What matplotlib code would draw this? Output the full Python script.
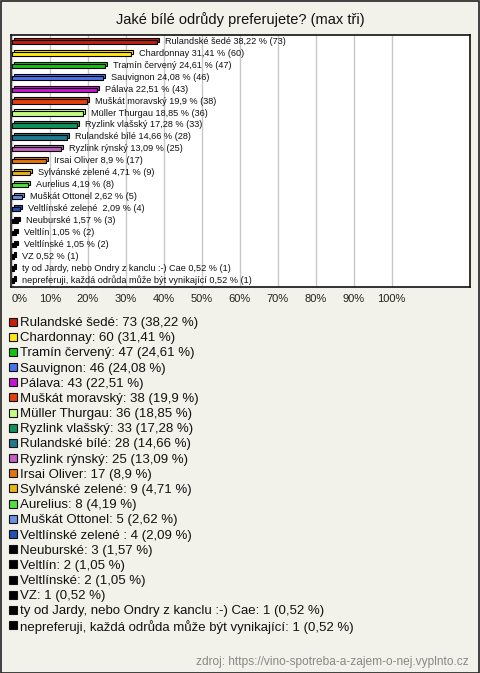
import matplotlib
matplotlib.use("Agg")
import matplotlib.pyplot as plt
import matplotlib.transforms as mtransforms
from matplotlib.patches import Rectangle

plt.rcParams['font.family'] = ['Liberation Sans', 'DejaVu Sans']

title = "Jaké bílé odrůdy preferujete? (max tři)"
categories = [
    "Rulandské šedé", "Chardonnay", "Tramín červený", "Sauvignon", "Pálava",
    "Muškát moravský", "Müller Thurgau", "Ryzlink vlašský", "Rulandské bílé",
    "Ryzlink rýnský", "Irsai Oliver", "Sylvánské zelené", "Aurelius",
    "Muškát Ottonel", "Veltlínské zelené ", "Neuburské", "Veltlín", "Veltlínské",
    "VZ", "ty od Jardy, nebo Ondry z kanclu :-) Cae",
    "nepreferuji, každá odrůda může být vynikající",
]
counts = [73, 60, 47, 46, 43, 38, 36, 33, 28, 25, 17, 9, 8, 5, 4, 3, 2, 2, 1, 1, 1]
percents = [38.22, 31.41, 24.61, 24.08, 22.51, 19.9, 18.85, 17.28, 14.66, 13.09,
            8.9, 4.71, 4.19, 2.62, 2.09, 1.57, 1.05, 1.05, 0.52, 0.52, 0.52]
colors = ["#c41e0c", "#ffe812", "#14c214", "#4a72ee", "#c814d2", "#e2400e",
          "#c6fc82", "#12905c", "#1e7a8e", "#c260c0", "#e27412", "#e8b414",
          "#52e03e", "#6a92e0", "#2450b4", "#000000", "#000000", "#000000",
          "#000000", "#000000", "#000000"]
xticks = [0, 10, 20, 30, 40, 50, 60, 70, 80, 90, 100]
source = "zdroj: https://vino-spotreba-a-zajem-o-nej.vyplnto.cz"

def fmt(v):
    return f"{v:g}".replace('.', ',')

W, H = 480, 673
fig = plt.figure(figsize=(W / 100, H / 100), dpi=100)
fig.patch.set_facecolor("#f3f2ea")
fig.patches.append(Rectangle((0.5 / W, 0.5 / H), 1 - 1.5 / W, 1 - 1.5 / H,
                             transform=fig.transFigure, fill=False,
                             edgecolor="#222222", linewidth=1.2))

fig.text(240 / W, 1 - 20 / H, title, ha='center', va='center', fontsize=10.5,
         color="#111111")

left, right, top, bottom = 11, 470, 35, 287
ax = fig.add_axes([left / W, 1 - bottom / H, (right - left) / W, (bottom - top) / H])
ax.set_facecolor("white")
n = len(categories)
ax.set_ylim(n - 1 + 0.55, -0.59)
ax.set_xlim(-0.2, 120.6)
ax.set_xticks(xticks)
ax.set_xticklabels([f"{t}%" for t in xticks], fontsize=8, color="#222222")
ax.get_xticklabels()[0].set_horizontalalignment('left')
ax.tick_params(axis='x', length=0, pad=5)
ax.set_yticks([])
ax.grid(axis='x', color="#c8c8c8", linewidth=1)
ax.set_axisbelow(True)
for s in ax.spines.values():
    s.set_color("#111111")
    s.set_linewidth(1.2)

ypos = list(range(n))
shadow = mtransforms.offset_copy(ax.transData, fig=fig, x=2, y=2, units='dots')
ax.barh(ypos, percents, height=0.36, color=colors, edgecolor="black",
        linewidth=0.8, transform=shadow, zorder=2)
ax.barh(ypos, percents, height=0.36, color=colors, edgecolor="black",
        linewidth=0.8, zorder=3)

for i, (c, p, k) in enumerate(zip(categories, percents, counts)):
    ax.annotate(f"{c} {fmt(p)} % ({k})", xy=(p, i), xytext=(8, 0.5),
                textcoords='offset pixels', ha='left', va='center',
                fontsize=6.6, color="#111111", zorder=4)

# legend
y0, pitch = 323, 15.18
for i, (c, p, k, col) in enumerate(zip(categories, percents, counts, colors)):
    yc = y0 + i * pitch
    fig.patches.append(Rectangle((9 / W, 1 - (yc + 2.5) / H), 8 / W, 8 / H,
                                 transform=fig.transFigure, facecolor=col,
                                 edgecolor="#111111", linewidth=0.8))
    fig.text(20 / W, 1 - yc / H, f"{c}: {k} ({fmt(p)} %)", ha='left',
             va='center', fontsize=9.5, color="#111111")

fig.text(469 / W, 1 - 661.5 / H, source, ha='right', va='center',
         fontsize=8.6, color="#888888")

fig.savefig("out.png", dpi=100, facecolor=fig.get_facecolor())
